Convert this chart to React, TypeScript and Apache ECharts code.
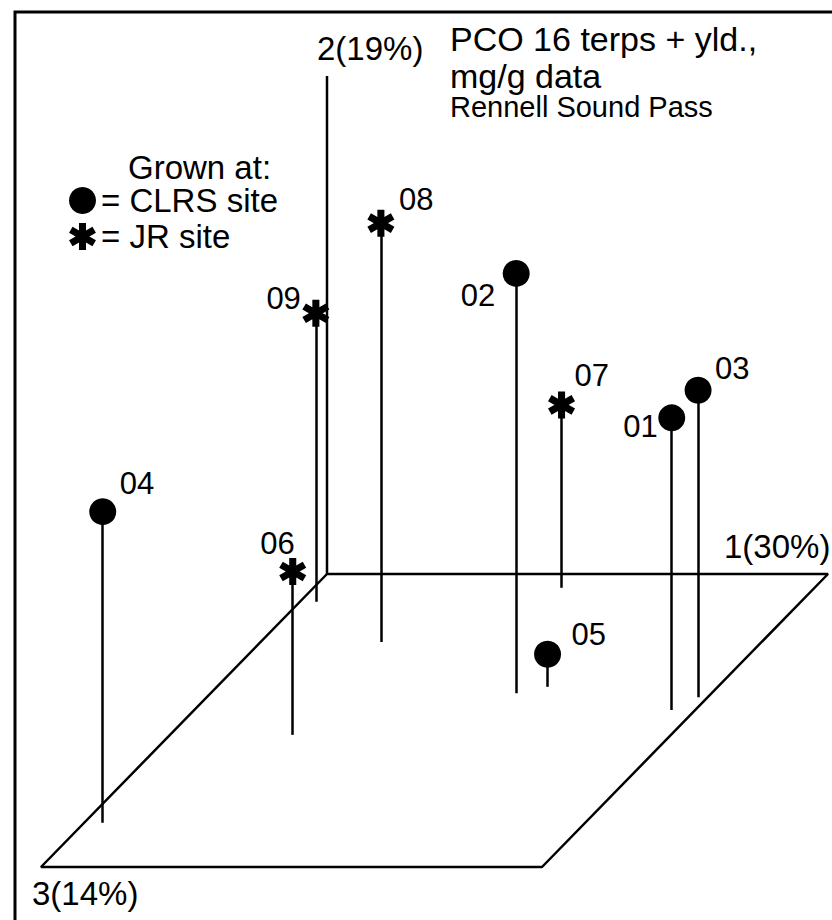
import React, { useEffect, useRef } from "react";
import * as echarts from "echarts";

// ---- data ----
const SAMPLES = ["01", "02", "03", "04", "05", "06", "07", "08", "09"];
const SITES = ["CLRS site", "CLRS site", "CLRS site", "CLRS site", "CLRS site", "JR site", "JR site", "JR site", "JR site"];
// coordinates on the three PCO axes, each axis drawn 0..100 units
const PCO1 = [95.3, 61.0, 98.1, 3.7, 66.0, 24.5, 49.5, 24.0, 3.2];
const PCO2 = [58.3, 83.8, 61.3, 62.1, 6.5, 32.6, 36.5, 83.6, 57.6];
const PCO3 = [46.4, 40.7, 42.1, 84.9, 38.5, 54.9, 4.7, 23.2, 9.5];

const AXIS_NAMES = ["1(30%)", "2(19%)", "3(14%)"];
const AXIS_LENGTH = [100, 99.4, 100];
const SITE_NAMES = ["CLRS site", "JR site"];
const TITLE_LINES = ["PCO 16 terps + yld.,", "mg/g data", "Rennell Sound Pass"];
const LEGEND_TITLE = "Grown at:";

// ---- oblique projection of the depth axis (layout) ----
const DEPTH_X = 286 / 501;
const DEPTH_Y = 293 / 501;
const proj = (p1: number, p2: number, p3: number): [number, number] => [p1 - DEPTH_X * p3, p2 - DEPTH_Y * p3];

const FONT = "'Liberation Sans', Arial, Helvetica, sans-serif";
const STAR = "path://M37,0L63,0L63,100L37,100ZM86.8,13.75L99.8,36.25L13.2,86.25L0.2,63.75ZM13.2,13.75L99.8,63.75L86.8,86.25L0.2,36.25Z";
const SYMBOL: Record<string, string> = { "CLRS site": "circle", "JR site": STAR };
const SYM = 27;

// label placement per sample (style only)
const LABEL_PLACE: Record<string, { align: "left" | "right"; dx: number; dy: number }> = {
  "01": { align: "right", dx: -14, dy: 9 },
  "02": { align: "right", dx: -21, dy: 22 },
  "03": { align: "left", dx: 17, dy: -22 },
  "04": { align: "left", dx: 17, dy: -28 },
  "05": { align: "left", dx: 24, dy: -20 },
  "06": { align: "right", dx: 2, dy: -28 },
  "07": { align: "left", dx: 13, dy: -29 },
  "08": { align: "left", dx: 18, dy: -24 },
  "09": { align: "right", dx: -15, dy: -15 },
};
const AXIS_LABEL_PLACE = [
  { align: "left", dx: -104, dy: -28 },
  { align: "left", dx: -10, dy: -28 },
  { align: "left", dx: -9, dy: 26 },
];

function buildOption() {
  const L1 = AXIS_LENGTH[0];
  const L2 = AXIS_LENGTH[1];
  const L3 = AXIS_LENGTH[2];
  const floor = [
    proj(0, 0, 0),
    proj(L1, 0, 0),
    proj(L1, 0, L3),
    proj(0, 0, L3),
    proj(0, 0, 0),
  ];
  const vAxis = [proj(0, 0, 0), proj(0, L2, 0)];

  const stems = SAMPLES.map((_, i) => ({
    coords: [proj(PCO1[i], 0, PCO3[i]), proj(PCO1[i], PCO2[i], PCO3[i])],
  }));

  const siteSeries = SITE_NAMES.map((site) => ({
    type: "scatter",
    name: site,
    symbol: SYMBOL[site],
    symbolSize: SYM,
    itemStyle: { color: "#000", opacity: 1 },
    z: 5,
    data: SAMPLES.map((s, i) => ({ s, i }))
      .filter(({ i }) => SITES[i] === site)
      .map(({ s, i }) => {
        const p = LABEL_PLACE[s];
        return {
          name: s,
          value: proj(PCO1[i], PCO2[i], PCO3[i]),
          label: {
            show: true,
            formatter: s,
            position: [SYM / 2 + p.dx, SYM / 2 + p.dy],
            align: p.align,
            verticalAlign: "middle",
            fontSize: 31,
            color: "#000",
            fontFamily: FONT,
          },
        };
      }),
  }));

  const axisEnds = [proj(L1, 0, 0), proj(0, L2, 0), proj(0, 0, L3)];

  return {
    animation: false,
    backgroundColor: "#fff",
    textStyle: { fontFamily: FONT, color: "#000" },
    grid: { left: 26.4, top: 73, width: 801.6, height: 801.6 },
    xAxis: { type: "value", min: -60, max: 100, show: false },
    yAxis: { type: "value", min: -60, max: 100, show: false },
    title: [
      {
        text: `{a|${TITLE_LINES[0]}}\n{a|${TITLE_LINES[1]}}\n{b|${TITLE_LINES[2]}}`,
        left: 450,
        top: 20,
        padding: 0,
        textStyle: {
          fontWeight: "normal",
          color: "#000",
          fontFamily: FONT,
          rich: {
            a: { fontSize: 34, lineHeight: 37, color: "#000", fontFamily: FONT },
            b: { fontSize: 29, lineHeight: 26, color: "#000", fontFamily: FONT },
          },
        },
      },
      {
        text: LEGEND_TITLE,
        left: 128,
        top: 152,
        padding: 0,
        textStyle: { fontSize: 33, fontWeight: "normal", color: "#000", lineHeight: 30, fontFamily: FONT },
      },
    ],
    legend: {
      orient: "vertical",
      left: 69,
      top: 184,
      padding: 0,
      itemWidth: SYM,
      itemHeight: SYM,
      itemGap: 3,
      selectedMode: false,
      data: SITE_NAMES,
      formatter: (n: string) => "= " + n,
      textStyle: { fontSize: 33, color: "#000", fontFamily: FONT },
    },
    graphic: [
      {
        type: "rect",
        silent: true,
        z: -10,
        shape: { x: 15, y: 12, width: 840, height: 930 },
        style: { fill: "none", stroke: "#000", lineWidth: 3 },
      },
    ],
    series: [
      {
        type: "line",
        name: "floor",
        data: floor,
        symbol: "none",
        silent: true,
        lineStyle: { color: "#000", width: 2.5 },
        z: 1,
      },
      {
        type: "line",
        name: "axis2",
        data: vAxis,
        symbol: "none",
        silent: true,
        lineStyle: { color: "#000", width: 2.5 },
        z: 1,
      },
      {
        type: "lines",
        name: "stems",
        coordinateSystem: "cartesian2d",
        silent: true,
        lineStyle: { color: "#000", width: 2.5, opacity: 1 },
        z: 2,
        data: stems,
      },
      ...siteSeries,
      {
        type: "scatter",
        name: "axis names",
        symbol: "circle",
        symbolSize: 0,
        silent: true,
        itemStyle: { color: "#000", opacity: 1 },
        z: 6,
        data: AXIS_NAMES.map((n, i) => ({
          name: n,
          value: axisEnds[i],
          label: {
            show: true,
            formatter: n,
            position: [AXIS_LABEL_PLACE[i].dx, AXIS_LABEL_PLACE[i].dy],
            align: AXIS_LABEL_PLACE[i].align,
            verticalAlign: "middle",
            fontSize: 33,
            color: "#000",
            opacity: 1,
            fontFamily: FONT,
          },
        })),
      },
    ],
  };
}

export default function App() {
  const ref = useRef<HTMLDivElement>(null);
  useEffect(() => {
    if (!ref.current) return;
    const chart = echarts.init(ref.current, null, { renderer: "svg" });
    chart.setOption(buildOption() as any);
    return () => chart.dispose();
  }, []);
  return (
    <div
      ref={ref}
      style={{ position: "absolute", left: 0, top: 0, width: 832, height: 920, background: "#fff" }}
    />
  );
}
